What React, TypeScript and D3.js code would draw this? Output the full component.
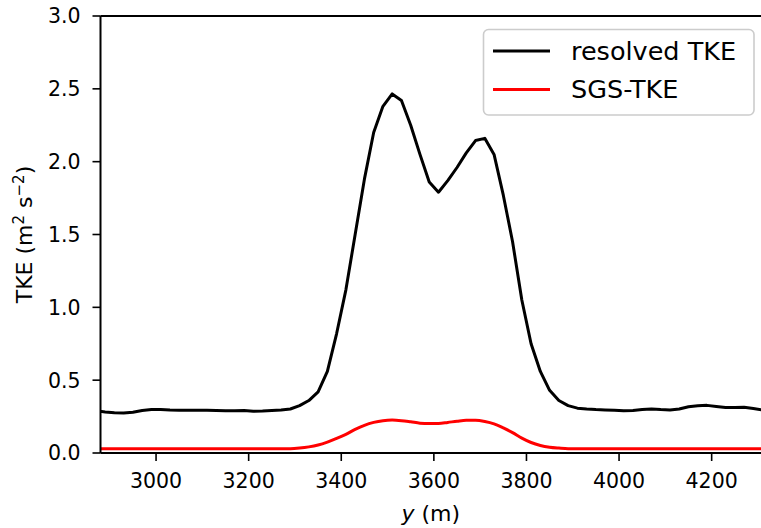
import React from 'react';
import * as d3 from 'd3';

// sampled positions along y (m)
const positions = d3.range(2870, 4311, 20);

const resolvedTKE = [
  0.29, 0.282, 0.276, 0.274, 0.28, 0.292, 0.298, 0.298, 0.295, 0.294,
  0.293, 0.294, 0.294, 0.292, 0.29, 0.29, 0.292, 0.287, 0.288, 0.292,
  0.296, 0.302, 0.325, 0.36, 0.42, 0.56, 0.82, 1.12, 1.5, 1.88,
  2.2, 2.38, 2.465, 2.42, 2.25, 2.05, 1.86, 1.79, 1.87, 1.96,
  2.06, 2.145, 2.16, 2.05, 1.77, 1.45, 1.05, 0.75, 0.56, 0.43,
  0.36, 0.325, 0.308, 0.302, 0.298, 0.296, 0.294, 0.29, 0.292, 0.298,
  0.302, 0.298, 0.296, 0.302, 0.318, 0.325, 0.327, 0.32, 0.313, 0.313,
  0.314, 0.305, 0.295,
];

const sgsTKE = [
  0.03, 0.03, 0.03, 0.03, 0.03, 0.03, 0.03, 0.03, 0.03, 0.03,
  0.03, 0.03, 0.03, 0.03, 0.03, 0.03, 0.03, 0.03, 0.03, 0.03,
  0.03, 0.03, 0.034, 0.042, 0.055, 0.075, 0.1, 0.128, 0.162, 0.19,
  0.21, 0.222, 0.226, 0.222, 0.214, 0.205, 0.202, 0.203, 0.21, 0.218,
  0.224, 0.224, 0.216, 0.2, 0.172, 0.14, 0.102, 0.072, 0.052, 0.04,
  0.034, 0.03, 0.03, 0.03, 0.03, 0.03, 0.03, 0.03, 0.03, 0.03,
  0.03, 0.03, 0.03, 0.03, 0.03, 0.03, 0.03, 0.03, 0.03, 0.03,
  0.03, 0.03, 0.03,
];

const xTicks = [3000, 3200, 3400, 3600, 3800, 4000, 4200];
const yTicks = [0, 0.5, 1.0, 1.5, 2.0, 2.5, 3.0];
const seriesNames = ['resolved TKE', 'SGS-TKE'];
const seriesColors = ['#000000', '#ff0000'];

const font = 'DejaVu Sans, sans-serif';

const App = () => {
  const width = 761;
  const height = 528;
  const margin = { top: 16, left: 100.5, bottom: 75 };
  const x = d3.scaleLinear().domain([2880, 4310]).range([margin.left, margin.left + 1430 * 0.463]);
  const y = d3.scaleLinear().domain([0, 3]).range([height - margin.bottom, margin.top]);

  const line = d3.line<number>()
    .x((_, i) => x(positions[i]))
    .y(d => y(d));
  const smooth = d3.line<number>()
    .x((_, i) => x(positions[i]))
    .y(d => y(d))
    .curve(d3.curveMonotoneX);

  const [x0, x1] = x.range();
  const [yb, yt] = y.range();

  return (
    <svg width={width} height={height} style={{ position: 'absolute', left: 0, top: 0, background: '#fff' }}
      fontFamily={font}>
      <defs>
        <clipPath id="plot-clip">
          <rect x={x0} y={yt} width={x1 - x0} height={yb - yt} />
        </clipPath>
      </defs>

      <g clipPath="url(#plot-clip)">
        <path d={smooth(sgsTKE) || ''} fill="none" stroke={seriesColors[1]} strokeWidth={3} />
        <path d={line(resolvedTKE) || ''} fill="none" stroke={seriesColors[0]} strokeWidth={3} strokeLinejoin="round" />
      </g>

      {/* spines */}
      <line x1={x0} x2={x0} y1={yt} y2={yb} stroke="#000" strokeWidth={2} />
      <line x1={x0} x2={x1} y1={yb} y2={yb} stroke="#000" strokeWidth={2} />
      <line x1={x0} x2={x1} y1={yt} y2={yt} stroke="#000" strokeWidth={2} />
      <line x1={x1} x2={x1} y1={yt} y2={yb} stroke="#000" strokeWidth={2} />

      {/* x axis */}
      {xTicks.map(t => (
        <g key={t} transform={`translate(${x(t)},${yb})`}>
          <line y1={0} y2={8} stroke="#000" strokeWidth={1.6} />
          <text y={35} textAnchor="middle" fontSize={20.5}>{t}</text>
        </g>
      ))}
      <text x={(x0 + 761) / 2} y={521} textAnchor="middle" fontSize={22}>
        <tspan fontStyle="italic">y</tspan> (m)
      </text>

      {/* y axis */}
      {yTicks.map(t => (
        <g key={t} transform={`translate(${x0},${y(t)})`}>
          <line x1={-8} x2={0} stroke="#000" strokeWidth={1.6} />
          <text x={-20} dy="0.36em" textAnchor="end" fontSize={20.5}>{t.toFixed(1)}</text>
        </g>
      ))}
      <text transform={`translate(32,${(yt + yb) / 2}) rotate(-90)`} textAnchor="middle" fontSize={22}>
        TKE (m<tspan dy={-8} fontSize={15}>2</tspan><tspan dy={8}> s</tspan><tspan dy={-8} fontSize={15}>−2</tspan><tspan dy={8}>)</tspan>
      </text>

      {/* legend */}
      <g>
        <rect x={483.5} y={29.5} width={270.5} height={85.5} rx={5} fill="#fff" fillOpacity={0.8} stroke="#cccccc" strokeWidth={1.6} />
        {seriesNames.map((name, i) => (
          <g key={name} transform={`translate(0,${i * 38.5})`}>
            <line x1={493} x2={550} y1={51} y2={51} stroke={seriesColors[i]} strokeWidth={3} />
            <text x={571} y={59.5} fontSize={25.5}>{name}</text>
          </g>
        ))}
      </g>
    </svg>
  );
};

export default App;
